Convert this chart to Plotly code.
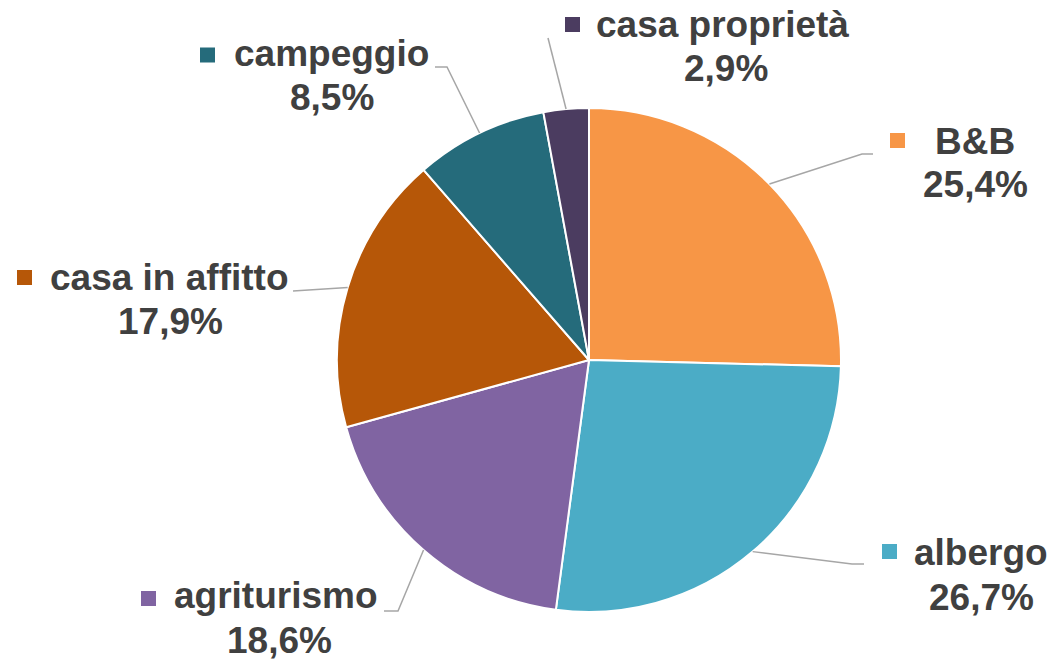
import math
import plotly.graph_objects as go

# ---- data ----
labels = ["B&B", "albergo", "agriturismo", "casa in affitto", "campeggio", "casa proprietà"]
values = [25.4, 26.7, 18.6, 17.9, 8.5, 2.9]
colors = ["#F79646", "#4BACC6", "#8064A2", "#B65708", "#256B7B", "#4B3C60"]

# ---- layout styling (pixel positions of label parts) ----
W, H = 1052, 660
CX, CY, R = 589, 360, 252
FS = 37
TXT = "#404040"
LINE = "#A6A6A6"

name_pos = [(975, 142), (981, 552), (276, 595), (169, 277), (331, 54), (722, 24)]
pct_pos = [(975, 185), (981, 597), (279, 640), (170, 322), (332, 97), (726, 69)]
sq_pos = [(897.5, 140.5), (889.5, 551.5), (148.5, 598.5), (24.5, 277.5), (207.5, 55), (572.5, 24.5)]
elbows = [
    [(862, 154), (873, 154)],
    [(852, 564), (864, 564)],
    [(398, 611), (384, 611)],
    [(293, 291)],
    [(447, 67), (435, 67)],
    [(548, 38)],
]


def px(x):
    return x / W


def py(y):
    return 1 - y / H


fig = go.Figure(
    go.Pie(
        labels=labels,
        values=values,
        sort=False,
        direction="clockwise",
        rotation=0,
        textinfo="none",
        hoverinfo="label+percent",
        marker=dict(colors=colors, line=dict(color="white", width=2)),
        domain=dict(x=[px(CX - R), px(CX + R)], y=[py(CY + R), py(CY - R)]),
        showlegend=False,
    )
)

total = sum(values)
cum = 0.0
shapes = []
annotations = []
for i, (lab, v) in enumerate(zip(labels, values)):
    mid = (cum + v / 2) / total * 2 * math.pi
    cum += v
    ex = CX + R * math.sin(mid)
    ey = CY - R * math.cos(mid)
    pts = [(ex, ey)] + elbows[i]
    path = "M " + " L ".join(f"{px(x)},{py(y)}" for x, y in pts)
    shapes.append(dict(type="path", path=path, xref="paper", yref="paper",
                       line=dict(color=LINE, width=1.5)))
    sx, sy = sq_pos[i]
    shapes.append(dict(type="rect", xref="paper", yref="paper",
                       x0=px(sx - 7.5), x1=px(sx + 7.5), y0=py(sy + 7.5), y1=py(sy - 7.5),
                       fillcolor=colors[i], line=dict(width=0)))
    pct = f"{v:.1f}".replace(".", ",") + "%"
    for (tx, ty), txt in ((name_pos[i], lab), (pct_pos[i], pct)):
        annotations.append(dict(
            x=px(tx), y=py(ty), xref="paper", yref="paper",
            text=f"<b>{txt}</b>", showarrow=False,
            xanchor="center", yanchor="middle",
            font=dict(family="Liberation Sans, Arial, sans-serif", size=FS, color=TXT),
        ))

fig.update_layout(
    width=W, height=H,
    margin=dict(l=0, r=0, t=0, b=0),
    paper_bgcolor="white",
    plot_bgcolor="white",
    shapes=shapes,
    annotations=annotations,
)

fig.write_html(
    "out.html",
    config={"displayModeBar": False},
    post_script="document.body.style.margin='0';document.body.style.overflow='hidden';",
)
